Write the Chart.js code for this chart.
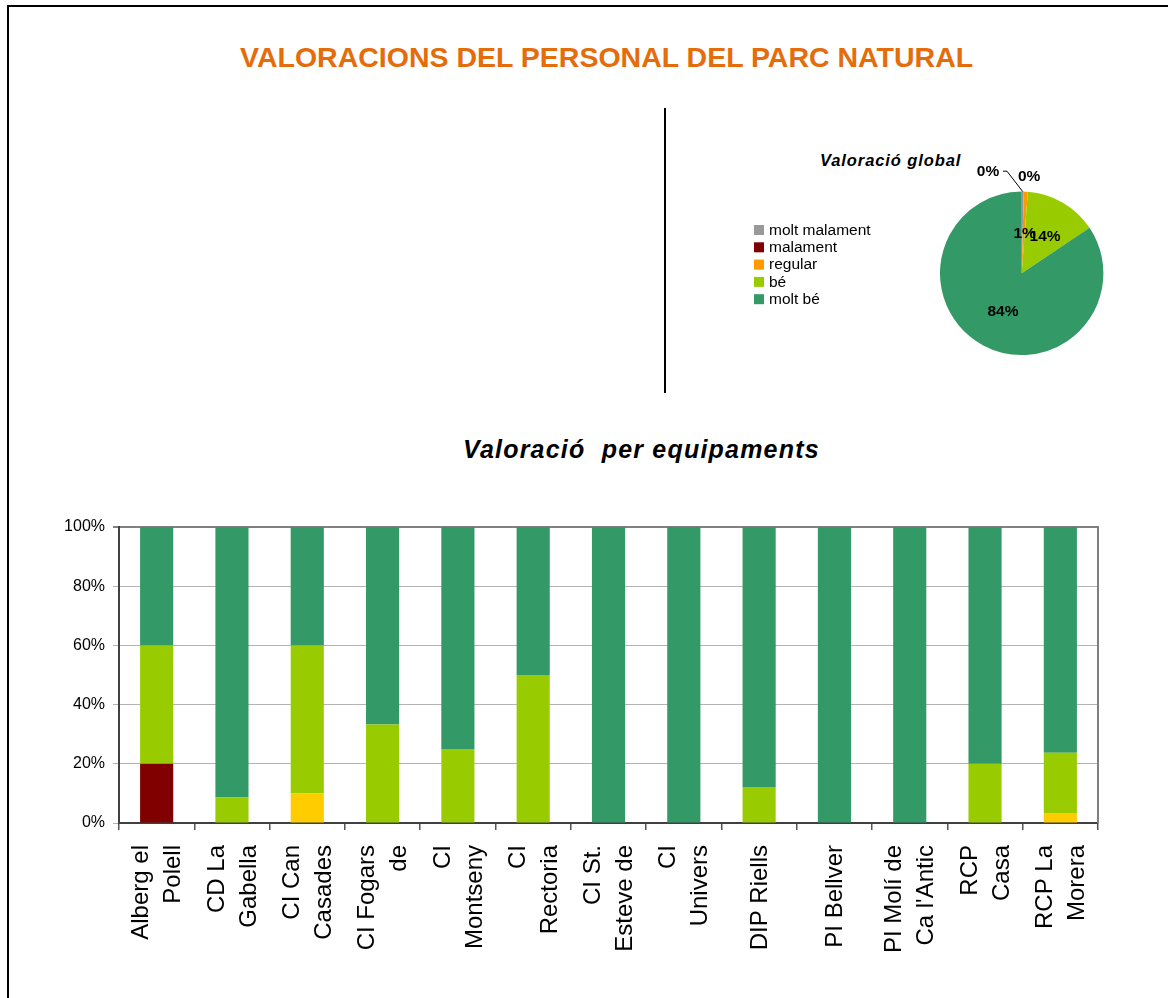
<!DOCTYPE html>
<html>
<head>
<meta charset="utf-8">
<script src="https://cdn.jsdelivr.net/npm/chart.js@4.4.0/dist/chart.umd.min.js"></script>
<style>
body { margin: 0; background: #fff; font-family: "Liberation Sans", Arial, sans-serif; }
#page { position: relative; width: 1168px; height: 998px; overflow: hidden; }
#frame { position: absolute; left: 7px; top: 5px; width: 1200px; height: 1100px; border-top: 2px solid #000; border-left: 2px solid #000; }
.txt { position: absolute; white-space: pre; line-height: 1; }
#title { left: 240px; top: 42.6px; font-size: 28.5px; font-weight: bold; color: #e46c0a; }
#subtitle { left: 463px; top: 436.5px; font-size: 25px; font-weight: bold; font-style: italic; letter-spacing: 1.2px; }
#pieTitle { left: 820px; top: 152px; font-size: 16.5px; font-weight: bold; font-style: italic; letter-spacing: 0.9px; }
#divider { position: absolute; left: 664px; top: 108px; width: 2px; height: 285px; background: #000; }
#pieBox { position: absolute; left: 740px; top: 140px; width: 380px; height: 260px; }
#barBox { position: absolute; left: 0; top: 500px; width: 1168px; height: 498px; }
</style>
</head>
<body>
<div id="page">
  <div id="frame"></div>
  <div class="txt" id="title">VALORACIONS DEL PERSONAL DEL PARC NATURAL</div>
  <div id="divider"></div>
  <div class="txt" id="pieTitle">Valoració global</div>
  <div id="pieBox"><canvas id="pieChart"></canvas></div>
  <div class="txt" id="subtitle">Valoració  per equipaments</div>
  <div id="barBox"><canvas id="barChart"></canvas></div>
</div>
<script>
// rating categories (legend order)
const ratings = ['molt malament', 'malament', 'regular', 'bé', 'molt bé'];
const pieColors = ['#999999', '#800000', '#ff9900', '#99cc00', '#339966'];
const barColors = ['#999999', '#800000', '#ffcc00', '#99cc00', '#339966'];

// global valuation (%)
const globalValues = [0.4, 0, 0.8, 14.4, 84.4];

// facilities
const equipaments = [
  ['Alberg el', 'Polell'], ['CD La', 'Gabella'], ['CI Can', 'Casades'], ['CI Fogars', 'de'],
  ['CI', 'Montseny'], ['CI', 'Rectoria'], ['CI St.', 'Esteve de'], ['CI', 'Univers'],
  ['DIP Riells'], ['PI Bellver'], ['PI Molí de', 'Ca l\'Antic'], ['RCP', 'Casa'], ['RCP La', 'Morera']
];

// per facility (%)
const moltMalament = [0, 0, 0, 0, 0, 0, 0, 0, 0, 0, 0, 0, 0];
const malament     = [20, 0, 0, 0, 0, 0, 0, 0, 0, 0, 0, 0, 0];
const regular      = [0, 0, 10, 0, 0, 0, 0, 0, 0, 0, 0, 0, 3.4];
const be           = [40, 8.6, 50, 33.3, 25, 50, 0, 0, 12.2, 0, 0, 20, 20.3];
const moltBe       = [40, 91.4, 40, 66.7, 75, 50, 100, 100, 87.8, 100, 100, 80, 76.3];

const yTicks = [0, 20, 40, 60, 80, 100];

const FONT = '"Liberation Sans", Arial, sans-serif';

// pie label placement (fraction of radius, pixel nudge)
const pieLabelRadius = [1.25, 1.18, 0.47, 0.52, 0.54];
const pieLabelNudge = [[-35, 1], [5, 0], [1, -1], [2, 0], [2, -1]];

const pieLabels = {
  id: 'pieLabels',
  afterDatasetsDraw(chart) {
    const ctx = chart.ctx;
    const meta = chart.getDatasetMeta(0);
    ctx.save();
    ctx.font = 'bold 15.5px ' + FONT;
    ctx.fillStyle = '#000';
    ctx.textAlign = 'center';
    ctx.textBaseline = 'middle';
    meta.data.forEach((arc, i) => {
      const p = arc.getProps(['x', 'y', 'startAngle', 'endAngle', 'outerRadius'], true);
      const mid = (p.startAngle + p.endAngle) / 2;
      const r = p.outerRadius * pieLabelRadius[i];
      const lx = p.x + Math.cos(mid) * r + pieLabelNudge[i][0];
      const ly = p.y + Math.sin(mid) * r + pieLabelNudge[i][1];
      ctx.fillText(Math.round(globalValues[i]) + '%', lx, ly);
      if (i === 0) {
        // leader line to the tiny slice
        ctx.strokeStyle = '#000';
        ctx.lineWidth = 1;
        ctx.beginPath();
        ctx.moveTo(lx + 15, ly - 1);
        ctx.lineTo(lx + 19, ly - 1);
        ctx.lineTo(p.x + Math.cos(mid) * p.outerRadius, p.y + Math.sin(mid) * p.outerRadius);
        ctx.stroke();
      }
    });
    ctx.restore();
  }
};

const pieLegend = {
  id: 'pieLegend',
  afterDraw(chart) {
    const ctx = chart.ctx;
    ctx.save();
    ctx.font = '15.5px ' + FONT;
    ctx.textBaseline = 'middle';
    chart.data.labels.forEach((lab, i) => {
      const y = 90 + i * 17.3;
      ctx.fillStyle = chart.data.datasets[0].backgroundColor[i];
      ctx.fillRect(14, y - 5, 10, 10);
      ctx.fillStyle = '#000';
      ctx.fillText(lab, 29, y + 0.5);
    });
    ctx.restore();
  }
};

new Chart(document.getElementById('pieChart'), {
  type: 'pie',
  data: {
    labels: ratings,
    datasets: [{ data: globalValues, backgroundColor: pieColors, borderWidth: 0 }]
  },
  options: {
    responsive: true,
    maintainAspectRatio: false,
    animation: false,
    layout: { padding: { left: 200, right: 16.6, top: 51.6, bottom: 45 } },
    plugins: { legend: { display: false }, tooltip: { enabled: false } }
  },
  plugins: [pieLabels, pieLegend]
});

const xLabels = {
  id: 'xLabels',
  afterDraw(chart) {
    const ctx = chart.ctx;
    const x = chart.scales.x;
    const top = chart.chartArea.bottom + 22;
    ctx.save();
    ctx.font = '24px ' + FONT;
    ctx.fillStyle = '#000';
    ctx.textAlign = 'right';
    ctx.textBaseline = 'middle';
    equipaments.forEach((lines, i) => {
      const cx = x.getPixelForValue(i);
      ctx.save();
      ctx.translate(cx, top);
      ctx.rotate(-Math.PI / 2);
      lines.forEach((t, j) => {
        ctx.fillText(t, 0, (j - (lines.length - 1) / 2) * 32 + 1);
      });
      ctx.restore();
    });
    ctx.restore();
  }
};

const rightBorder = {
  id: 'rightBorder',
  afterDraw(chart) {
    const { ctx, chartArea } = chart;
    ctx.save();
    ctx.strokeStyle = '#808080';
    ctx.lineWidth = 2;
    ctx.beginPath();
    ctx.moveTo(chartArea.right, chartArea.top - 1);
    ctx.lineTo(chartArea.right, chartArea.bottom);
    ctx.stroke();
    ctx.restore();
  }
};

const series = [moltMalament, malament, regular, be, moltBe];

new Chart(document.getElementById('barChart'), {
  type: 'bar',
  data: {
    labels: equipaments.map(l => l.join(' ')),
    datasets: ratings.map((r, i) => ({
      label: r,
      data: series[i],
      backgroundColor: barColors[i],
      borderWidth: 0,
      barPercentage: 0.44,
      categoryPercentage: 1
    }))
  },
  options: {
    responsive: true,
    maintainAspectRatio: false,
    animation: false,
    layout: { padding: { left: 0, right: 70, top: 27, bottom: 0 } },
    plugins: { legend: { display: false }, tooltip: { enabled: false } },
    scales: {
      x: {
        stacked: true,
        afterFit(s) { s.height = 175; },
        ticks: { display: false },
        grid: { display: true, drawOnChartArea: false, drawTicks: true, tickLength: 7, color: '#555', lineWidth: 1.5 },
        border: { display: true, color: '#404040', width: 2 }
      },
      y: {
        stacked: true,
        min: 0,
        max: 100,
        afterFit(s) { s.width = 119; },
        afterBuildTicks(s) { s.ticks = yTicks.map(v => ({ value: v })); },
        ticks: {
          color: '#000',
          padding: 8,
          font: { family: FONT, size: 16 },
          callback: v => v + '%'
        },
        grid: {
          color: c => (c.tick && c.tick.value === 100) ? '#808080' : '#b4b4b4',
          lineWidth: c => (c.tick && c.tick.value === 100) ? 2 : 1,
          tickLength: 6,
          drawTicks: true
        },
        border: { display: true, color: '#404040', width: 2 }
      }
    }
  },
  plugins: [xLabels, rightBorder]
});
</script>
</body>
</html>
